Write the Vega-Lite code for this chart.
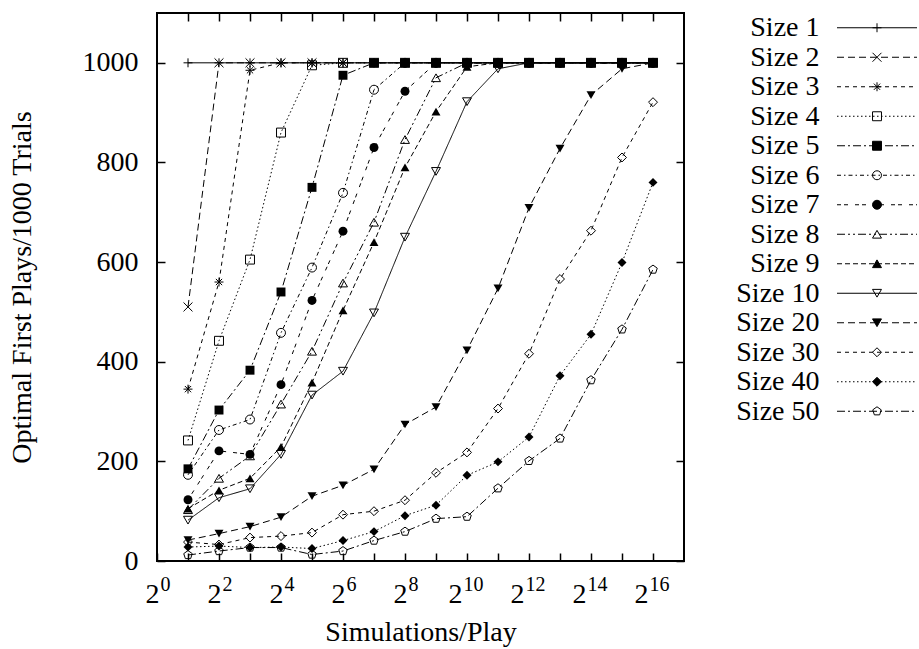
{
 "$schema": "https://vega.github.io/schema/vega-lite/v6.json",
 "padding": {"left": 7, "top": 11, "right": 0, "bottom": 0},
 "background": "white",
 "spacing": 49,
 "config": {"font": "Liberation Serif", "view": {"stroke": null}},
 "datasets": {"d": [
  {"s":"Size 1","n":2,"v":1000},{"s":"Size 1","n":4,"v":1000},{"s":"Size 1","n":8,"v":1000},{"s":"Size 1","n":16,"v":1000},{"s":"Size 1","n":32,"v":1000},{"s":"Size 1","n":64,"v":1000},{"s":"Size 1","n":128,"v":1000},{"s":"Size 1","n":256,"v":1000},{"s":"Size 1","n":512,"v":1000},{"s":"Size 1","n":1024,"v":1000},{"s":"Size 1","n":2048,"v":1000},{"s":"Size 1","n":4096,"v":1000},{"s":"Size 1","n":8192,"v":1000},{"s":"Size 1","n":16384,"v":1000},{"s":"Size 1","n":32768,"v":1000},{"s":"Size 1","n":65536,"v":1000},
  {"s":"Size 2","n":2,"v":510},{"s":"Size 2","n":4,"v":1000},{"s":"Size 2","n":8,"v":1000},{"s":"Size 2","n":16,"v":1000},{"s":"Size 2","n":32,"v":1000},{"s":"Size 2","n":64,"v":1000},{"s":"Size 2","n":128,"v":1000},{"s":"Size 2","n":256,"v":1000},{"s":"Size 2","n":512,"v":1000},{"s":"Size 2","n":1024,"v":1000},{"s":"Size 2","n":2048,"v":1000},{"s":"Size 2","n":4096,"v":1000},{"s":"Size 2","n":8192,"v":1000},{"s":"Size 2","n":16384,"v":1000},{"s":"Size 2","n":32768,"v":1000},{"s":"Size 2","n":65536,"v":1000},
  {"s":"Size 3","n":2,"v":345},{"s":"Size 3","n":4,"v":560},{"s":"Size 3","n":8,"v":985},{"s":"Size 3","n":16,"v":1000},{"s":"Size 3","n":32,"v":1000},{"s":"Size 3","n":64,"v":1000},{"s":"Size 3","n":128,"v":1000},{"s":"Size 3","n":256,"v":1000},{"s":"Size 3","n":512,"v":1000},{"s":"Size 3","n":1024,"v":1000},{"s":"Size 3","n":2048,"v":1000},{"s":"Size 3","n":4096,"v":1000},{"s":"Size 3","n":8192,"v":1000},{"s":"Size 3","n":16384,"v":1000},{"s":"Size 3","n":32768,"v":1000},{"s":"Size 3","n":65536,"v":1000},
  {"s":"Size 4","n":2,"v":242},{"s":"Size 4","n":4,"v":442},{"s":"Size 4","n":8,"v":605},{"s":"Size 4","n":16,"v":860},{"s":"Size 4","n":32,"v":995},{"s":"Size 4","n":64,"v":1000},{"s":"Size 4","n":128,"v":1000},{"s":"Size 4","n":256,"v":1000},{"s":"Size 4","n":512,"v":1000},{"s":"Size 4","n":1024,"v":1000},{"s":"Size 4","n":2048,"v":1000},{"s":"Size 4","n":4096,"v":1000},{"s":"Size 4","n":8192,"v":1000},{"s":"Size 4","n":16384,"v":1000},{"s":"Size 4","n":32768,"v":1000},{"s":"Size 4","n":65536,"v":1000},
  {"s":"Size 5","n":2,"v":185},{"s":"Size 5","n":4,"v":303},{"s":"Size 5","n":8,"v":383},{"s":"Size 5","n":16,"v":540},{"s":"Size 5","n":32,"v":750},{"s":"Size 5","n":64,"v":975},{"s":"Size 5","n":128,"v":1000},{"s":"Size 5","n":256,"v":1000},{"s":"Size 5","n":512,"v":1000},{"s":"Size 5","n":1024,"v":1000},{"s":"Size 5","n":2048,"v":1000},{"s":"Size 5","n":4096,"v":1000},{"s":"Size 5","n":8192,"v":1000},{"s":"Size 5","n":16384,"v":1000},{"s":"Size 5","n":32768,"v":1000},{"s":"Size 5","n":65536,"v":1000},
  {"s":"Size 6","n":2,"v":173},{"s":"Size 6","n":4,"v":263},{"s":"Size 6","n":8,"v":284},{"s":"Size 6","n":16,"v":458},{"s":"Size 6","n":32,"v":589},{"s":"Size 6","n":64,"v":739},{"s":"Size 6","n":128,"v":946},{"s":"Size 6","n":256,"v":1000},{"s":"Size 6","n":512,"v":1000},{"s":"Size 6","n":1024,"v":1000},{"s":"Size 6","n":2048,"v":1000},{"s":"Size 6","n":4096,"v":1000},{"s":"Size 6","n":8192,"v":1000},{"s":"Size 6","n":16384,"v":1000},{"s":"Size 6","n":32768,"v":1000},{"s":"Size 6","n":65536,"v":1000},
  {"s":"Size 7","n":2,"v":123},{"s":"Size 7","n":4,"v":221},{"s":"Size 7","n":8,"v":214},{"s":"Size 7","n":16,"v":354},{"s":"Size 7","n":32,"v":523},{"s":"Size 7","n":64,"v":662},{"s":"Size 7","n":128,"v":830},{"s":"Size 7","n":256,"v":943},{"s":"Size 7","n":512,"v":1000},{"s":"Size 7","n":1024,"v":1000},{"s":"Size 7","n":2048,"v":1000},{"s":"Size 7","n":4096,"v":1000},{"s":"Size 7","n":8192,"v":1000},{"s":"Size 7","n":16384,"v":1000},{"s":"Size 7","n":32768,"v":1000},{"s":"Size 7","n":65536,"v":1000},
  {"s":"Size 8","n":2,"v":103},{"s":"Size 8","n":4,"v":166},{"s":"Size 8","n":8,"v":211},{"s":"Size 8","n":16,"v":315},{"s":"Size 8","n":32,"v":421},{"s":"Size 8","n":64,"v":558},{"s":"Size 8","n":128,"v":680},{"s":"Size 8","n":256,"v":846},{"s":"Size 8","n":512,"v":970},{"s":"Size 8","n":1024,"v":1000},{"s":"Size 8","n":2048,"v":1000},{"s":"Size 8","n":4096,"v":1000},{"s":"Size 8","n":8192,"v":1000},{"s":"Size 8","n":16384,"v":1000},{"s":"Size 8","n":32768,"v":1000},{"s":"Size 8","n":65536,"v":1000},
  {"s":"Size 9","n":2,"v":105},{"s":"Size 9","n":4,"v":142},{"s":"Size 9","n":8,"v":166},{"s":"Size 9","n":16,"v":229},{"s":"Size 9","n":32,"v":358},{"s":"Size 9","n":64,"v":503},{"s":"Size 9","n":128,"v":640},{"s":"Size 9","n":256,"v":790},{"s":"Size 9","n":512,"v":902},{"s":"Size 9","n":1024,"v":992},{"s":"Size 9","n":2048,"v":1000},{"s":"Size 9","n":4096,"v":1000},{"s":"Size 9","n":8192,"v":1000},{"s":"Size 9","n":16384,"v":1000},{"s":"Size 9","n":32768,"v":1000},{"s":"Size 9","n":65536,"v":1000},
  {"s":"Size 10","n":2,"v":82},{"s":"Size 10","n":4,"v":127},{"s":"Size 10","n":8,"v":145},{"s":"Size 10","n":16,"v":214},{"s":"Size 10","n":32,"v":333},{"s":"Size 10","n":64,"v":381},{"s":"Size 10","n":128,"v":498},{"s":"Size 10","n":256,"v":650},{"s":"Size 10","n":512,"v":782},{"s":"Size 10","n":1024,"v":922},{"s":"Size 10","n":2048,"v":988},{"s":"Size 10","n":4096,"v":1000},{"s":"Size 10","n":8192,"v":1000},{"s":"Size 10","n":16384,"v":1000},{"s":"Size 10","n":32768,"v":1000},{"s":"Size 10","n":65536,"v":1000},
  {"s":"Size 20","n":2,"v":42},{"s":"Size 20","n":4,"v":55},{"s":"Size 20","n":8,"v":69},{"s":"Size 20","n":16,"v":88},{"s":"Size 20","n":32,"v":130},{"s":"Size 20","n":64,"v":152},{"s":"Size 20","n":128,"v":184},{"s":"Size 20","n":256,"v":274},{"s":"Size 20","n":512,"v":309},{"s":"Size 20","n":1024,"v":423},{"s":"Size 20","n":2048,"v":547},{"s":"Size 20","n":4096,"v":709},{"s":"Size 20","n":8192,"v":828},{"s":"Size 20","n":16384,"v":935},{"s":"Size 20","n":32768,"v":988},{"s":"Size 20","n":65536,"v":1000},
  {"s":"Size 30","n":2,"v":38},{"s":"Size 30","n":4,"v":33},{"s":"Size 30","n":8,"v":47},{"s":"Size 30","n":16,"v":50},{"s":"Size 30","n":32,"v":57},{"s":"Size 30","n":64,"v":93},{"s":"Size 30","n":128,"v":100},{"s":"Size 30","n":256,"v":122},{"s":"Size 30","n":512,"v":177},{"s":"Size 30","n":1024,"v":218},{"s":"Size 30","n":2048,"v":306},{"s":"Size 30","n":4096,"v":416},{"s":"Size 30","n":8192,"v":566},{"s":"Size 30","n":16384,"v":663},{"s":"Size 30","n":32768,"v":810},{"s":"Size 30","n":65536,"v":921},
  {"s":"Size 40","n":2,"v":28},{"s":"Size 40","n":4,"v":30},{"s":"Size 40","n":8,"v":27},{"s":"Size 40","n":16,"v":28},{"s":"Size 40","n":32,"v":25},{"s":"Size 40","n":64,"v":41},{"s":"Size 40","n":128,"v":59},{"s":"Size 40","n":256,"v":91},{"s":"Size 40","n":512,"v":112},{"s":"Size 40","n":1024,"v":172},{"s":"Size 40","n":2048,"v":199},{"s":"Size 40","n":4096,"v":249},{"s":"Size 40","n":8192,"v":372},{"s":"Size 40","n":16384,"v":455},{"s":"Size 40","n":32768,"v":599},{"s":"Size 40","n":65536,"v":760},
  {"s":"Size 50","n":2,"v":12},{"s":"Size 50","n":4,"v":20},{"s":"Size 50","n":8,"v":27},{"s":"Size 50","n":16,"v":27},{"s":"Size 50","n":32,"v":13},{"s":"Size 50","n":64,"v":20},{"s":"Size 50","n":128,"v":41},{"s":"Size 50","n":256,"v":59},{"s":"Size 50","n":512,"v":85},{"s":"Size 50","n":1024,"v":89},{"s":"Size 50","n":2048,"v":146},{"s":"Size 50","n":4096,"v":201},{"s":"Size 50","n":8192,"v":246},{"s":"Size 50","n":16384,"v":363},{"s":"Size 50","n":32768,"v":465},{"s":"Size 50","n":65536,"v":585}
 ]},
 "data": {"name": "d"},
 "hconcat": [
  {
   "width": 527,
   "height": 548,
   "view": {"stroke": "black", "strokeWidth": 2},
   "resolve": {"axis": {"x": "independent", "y": "independent"}},
   "layer": [
    {
     "mark": {"type": "line", "color": "black", "strokeWidth": 1},
     "encoding": {
      "x": {"field": "n", "type": "quantitative",
        "scale": {"type": "log", "base": 2, "domain": [1, 131072], "nice": false},
        "axis": {"orient": "bottom", "values": [1,2,4,8,16,32,64,128,256,512,1024,2048,4096,8192,16384,32768,65536],
          "labelExpr": "round(log(datum.value)/LN2) % 2 == 0 ? '2' : ''",
          "labelAlign": "right", "labelBaseline": "top",
          "labelOffset": {"condition": {"test": "datum.value >= 1024", "value": -5}, "value": 2},
          "labelFontSize": 28, "labelColor": "black", "labelPadding": 27,
          "labelFlush": false, "labelOverlap": false,
          "tickSize": -8, "tickColor": "black", "tickWidth": 1.5,
          "domain": false, "grid": false,
          "title": "Simulations/Play", "titleFontSize": 28, "titleFontWeight": "normal", "titleColor": "black", "titlePadding": 10}},
      "y": {"field": "v", "type": "quantitative",
        "scale": {"domain": [0, 1100], "nice": false},
        "axis": {"orient": "left", "values": [0,200,400,600,800,1000], "format": "d",
          "labelFontSize": 28, "labelColor": "black", "labelPadding": 27, "labelFlush": false,
          "tickSize": -8, "tickColor": "black", "tickWidth": 1.5,
          "domain": false, "grid": false,
          "title": "Optimal First Plays/1000 Trials", "titleFontSize": 28, "titleFontWeight": "normal", "titleColor": "black", "titlePadding": 46}},
      "strokeDash": {"field": "s", "type": "nominal", "legend": null,
        "scale": {"domain": ["Size 1","Size 2","Size 3","Size 4","Size 5","Size 6","Size 7","Size 8","Size 9","Size 10","Size 20","Size 30","Size 40","Size 50"],
          "range": [[1,0],[7,4],[4,4],[1.5,2.5],[8,3,2,3],[4,3,1.5,3],[4,3,4,7],[8,3,2,3,2,3],[5,3],[1,0],[7,4],[4,4],[1.5,2.5],[8,3,2,3]]}}
     }
    },
    {
     "transform": [{"filter": "indexof(['Size 5','Size 7','Size 9','Size 20','Size 40'], datum.s) >= 0"}],
     "mark": {"type": "point", "filled": true, "color": "black", "size": 80, "opacity": 1},
     "encoding": {
      "x": {"field": "n", "type": "quantitative",
        "scale": {"type": "log", "base": 2, "domain": [1, 131072], "nice": false},
        "axis": {"orient": "bottom", "values": [1,4,16,64,256,1024,4096,16384,65536],
          "labelExpr": "'' + round(log(datum.value)/LN2)",
          "labelAlign": "left", "labelBaseline": "top",
          "labelOffset": {"condition": {"test": "datum.value >= 1024", "value": -4}, "value": 3},
          "labelFontSize": 20, "labelColor": "black", "labelPadding": 13,
          "labelFlush": false, "labelOverlap": false,
          "ticks": false, "domain": false, "grid": false, "title": null}},
      "y": {"field": "v", "type": "quantitative",
        "scale": {"domain": [0, 1100], "nice": false},
        "axis": {"orient": "right", "values": [0,200,400,600,800,1000], "labels": false,
          "tickSize": -8, "tickColor": "black", "tickWidth": 1.5,
          "domain": false, "grid": false, "title": null}},
      "shape": {"field": "s", "type": "nominal", "legend": null,
        "scale": {"domain": ["Size 1","Size 2","Size 3","Size 4","Size 5","Size 6","Size 7","Size 8","Size 9","Size 10","Size 20","Size 30","Size 40","Size 50"],
          "range": ["M-1,0L1,0M0,-1L0,1","M-1,-1L1,1M-1,1L1,-1","M-1,0L1,0M0,-1L0,1M-0.7,-0.7L0.7,0.7M-0.7,0.7L0.7,-0.7","square","square","circle","circle","triangle-up","triangle-up","triangle-down","triangle-down","diamond","diamond","M0,-1L0.951,-0.309L0.588,0.809L-0.588,0.809L-0.951,-0.309Z"]}}
     }
    },
    {
     "transform": [{"filter": "indexof(['Size 5','Size 7','Size 9','Size 20','Size 40'], datum.s) < 0"}],
     "mark": {"type": "point", "filled": false, "color": "black", "strokeWidth": 1, "size": 80, "opacity": 1},
     "encoding": {
      "x": {"field": "n", "type": "quantitative",
        "scale": {"type": "log", "base": 2, "domain": [1, 131072], "nice": false},
        "axis": {"orient": "top", "values": [2,4,8,16,32,64,128,256,512,1024,2048,4096,8192,16384,32768,65536],
          "labels": false, "tickSize": -8, "tickColor": "black", "tickWidth": 1.5,
          "domain": false, "grid": false, "title": null}},
      "y": {"field": "v", "type": "quantitative", "scale": {"domain": [0, 1100], "nice": false}, "axis": null},
      "shape": {"field": "s", "type": "nominal", "legend": null,
        "scale": {"domain": ["Size 1","Size 2","Size 3","Size 4","Size 5","Size 6","Size 7","Size 8","Size 9","Size 10","Size 20","Size 30","Size 40","Size 50"],
          "range": ["M-1,0L1,0M0,-1L0,1","M-1,-1L1,1M-1,1L1,-1","M-1,0L1,0M0,-1L0,1M-0.7,-0.7L0.7,0.7M-0.7,0.7L0.7,-0.7","square","square","circle","circle","triangle-up","triangle-up","triangle-down","triangle-down","diamond","diamond","M0,-1L0.951,-0.309L0.588,0.809L-0.588,0.809L-0.951,-0.309Z"]}}
     }
    }
   ]
  },
  {
   "width": 80,
   "height": 413,
   "view": {"stroke": null},
   "transform": [{"filter": "datum.n == 2"}],
   "layer": [
    {
     "mark": {"type": "rule", "color": "black", "strokeWidth": 1},
     "encoding": {
      "x": {"datum": 0, "type": "quantitative", "scale": {"domain": [0, 1], "nice": false}, "axis": null},
      "x2": {"datum": 1},
      "y": {"field": "s", "type": "nominal",
        "scale": {"type": "point", "padding": 0.5, "domain": ["Size 1","Size 2","Size 3","Size 4","Size 5","Size 6","Size 7","Size 8","Size 9","Size 10","Size 20","Size 30","Size 40","Size 50"]},
        "axis": {"orient": "left", "title": null, "ticks": false, "domain": false, "grid": false,
          "labelFontSize": 28, "labelColor": "black", "labelPadding": 18}},
      "strokeDash": {"field": "s", "type": "nominal", "legend": null,
        "scale": {"domain": ["Size 1","Size 2","Size 3","Size 4","Size 5","Size 6","Size 7","Size 8","Size 9","Size 10","Size 20","Size 30","Size 40","Size 50"],
          "range": [[1,0],[7,4],[4,4],[1.5,2.5],[8,3,2,3],[4,3,1.5,3],[4,3,4,7],[8,3,2,3,2,3],[5,3],[1,0],[7,4],[4,4],[1.5,2.5],[8,3,2,3]]}}
     }
    },
    {
     "mark": {"type": "point", "filled": true, "stroke": "black", "strokeWidth": 1, "size": 80, "opacity": 1},
     "encoding": {
      "x": {"datum": 0.5, "type": "quantitative"},
      "y": {"field": "s", "type": "nominal"},
      "shape": {"field": "s", "type": "nominal", "legend": null,
        "scale": {"domain": ["Size 1","Size 2","Size 3","Size 4","Size 5","Size 6","Size 7","Size 8","Size 9","Size 10","Size 20","Size 30","Size 40","Size 50"],
          "range": ["M-1,0L1,0M0,-1L0,1","M-1,-1L1,1M-1,1L1,-1","M-1,0L1,0M0,-1L0,1M-0.7,-0.7L0.7,0.7M-0.7,0.7L0.7,-0.7","square","square","circle","circle","triangle-up","triangle-up","triangle-down","triangle-down","diamond","diamond","M0,-1L0.951,-0.309L0.588,0.809L-0.588,0.809L-0.951,-0.309Z"]}},
      "fill": {"field": "s", "type": "nominal", "legend": null,
        "scale": {"domain": ["Size 1","Size 2","Size 3","Size 4","Size 5","Size 6","Size 7","Size 8","Size 9","Size 10","Size 20","Size 30","Size 40","Size 50"],
          "range": ["transparent","transparent","transparent","transparent","black","transparent","black","transparent","black","transparent","black","transparent","black","transparent"]}}
     }
    }
   ]
  }
 ]
}
